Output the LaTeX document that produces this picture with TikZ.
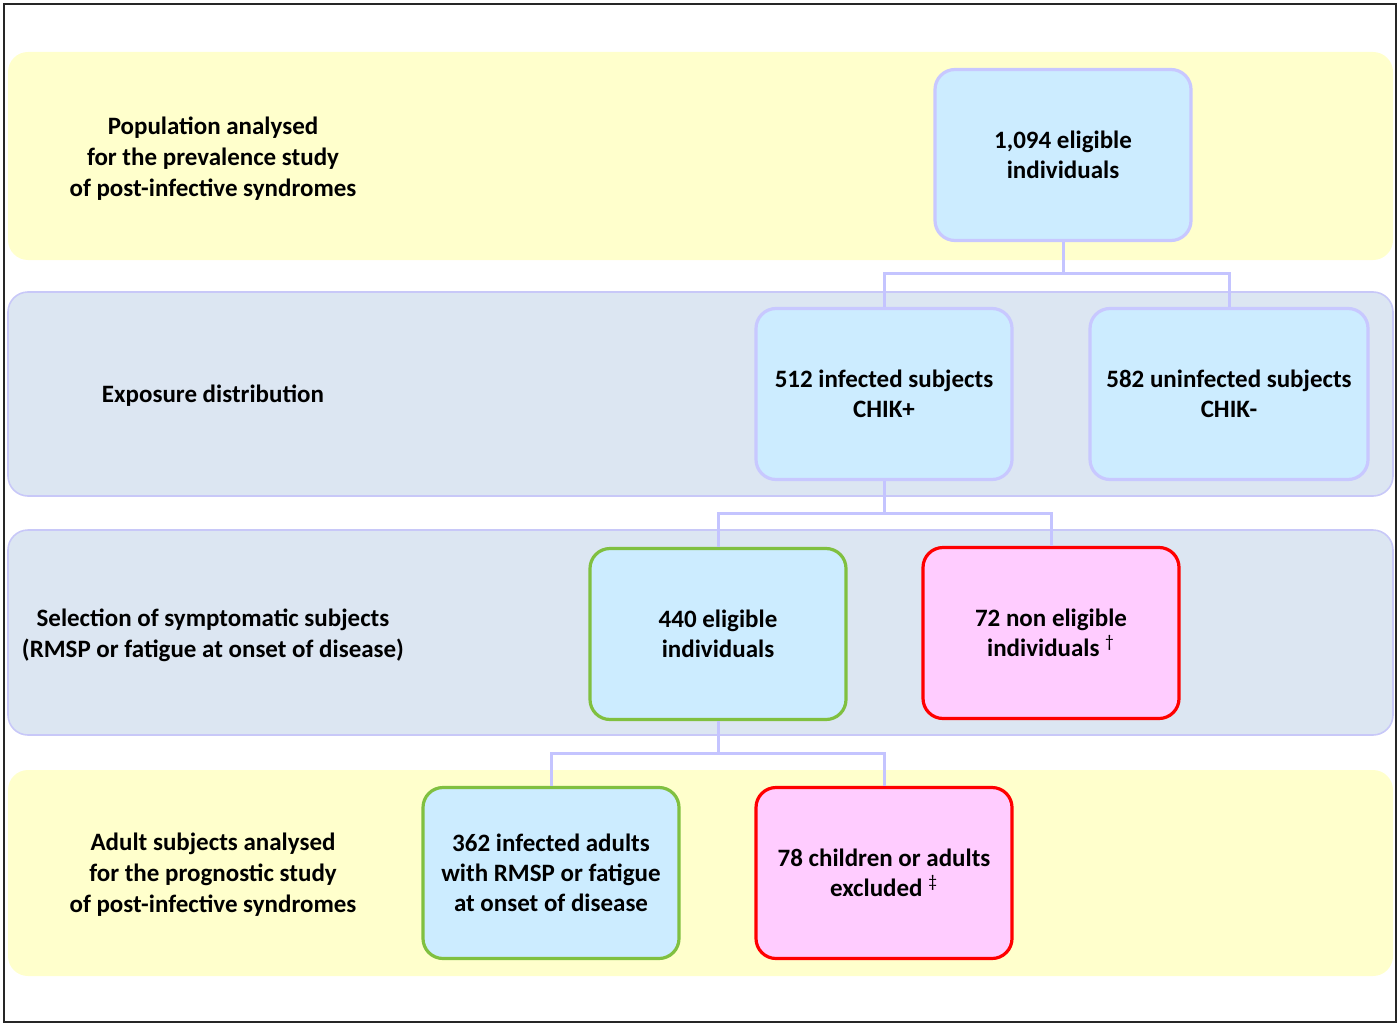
\documentclass[tikz,border=0pt]{standalone}
\usepackage{fontspec}
\setmainfont{Carlito}
\definecolor{bandyellow}{RGB}{255,255,204}
\definecolor{bandblue}{RGB}{220,230,242}
\definecolor{bandline}{RGB}{200,200,248}
\definecolor{boxblue}{RGB}{204,236,255}
\definecolor{boxline}{RGB}{200,200,255}
\definecolor{boxgreen}{RGB}{128,192,64}
\definecolor{boxred}{RGB}{255,0,0}
\definecolor{boxpink}{RGB}{255,204,255}
\definecolor{linkcol}{RGB}{196,196,255}
\tikzset{
  band/.style={
    rounded corners=10pt,
    inner sep=0pt,
    minimum width=692.5pt
  },
  band-yellow/.style={band, fill=bandyellow},
  band-blue/.style={band, fill=bandblue, draw=bandline, line width=0.8pt},
  band-text/.style={align=center, font=\fontsize{12.5}{15.5}\selectfont\bfseries},
  box/.style={
    rounded corners=10pt,
    line width=1.6pt,
    align=center,
    inner sep=2pt,
    minimum width=128pt,
    minimum height=85.5pt,
    font=\fontsize{12.5}{15}\selectfont\bfseries
  },
  box-blue/.style={box, fill=boxblue, draw=boxline},
  box-green/.style={box, fill=boxblue, draw=boxgreen},
  box-red/.style={box, fill=boxpink, draw=boxred},
  link/.style={draw=linkcol, line width=1.5pt},
  frame/.style={draw=black!85, line width=1pt}
}

\begin{document}
\begin{tikzpicture}[x=0.5pt,y=-0.5pt]
  \useasboundingbox (0,0) rectangle (1400,1027);
  \draw[frame] (4,4) rectangle (1396,1022);

  % Bands
  \node[band-yellow, minimum height=104pt] (band1) at (700.5,156) {};
  \node[band-blue, minimum height=102pt] (band2) at (700.5,394) {};
  \node[band-blue, minimum height=102.5pt] (band3) at (700.5,632.5) {};
  \node[band-yellow, minimum height=103pt] (band4) at (700.5,873) {};

  % Band texts
  \node[band-text] (text1) at (213,159)
    {Population analysed\\for the prevalence study\\of post-infective syndromes};
  \node[band-text] (text2) at (213,396) {Exposure distribution};
  \node[band-text] (text3) at (213,635)
    {Selection of symptomatic subjects\\(RMSP or fatigue at onset of disease)};
  \node[band-text] (text4) at (213,875)
    {Adult subjects analysed\\for the prognostic study\\of post-infective syndromes};

  % Boxes
  \node[box-blue] (all) at (1063,155) {1,094 eligible\\individuals};
  \node[box-blue] (chikpos) at (884,394) {512 infected subjects\\CHIK+};
  \node[box-blue, minimum width=139pt] (chikneg) at (1229,394) {582 uninfected subjects\\CHIK-};
  \node[box-green] (elig) at (718,634) {440 eligible\\individuals};
  \node[box-red] (nonelig) at (1051,633)
    {72 non eligible\\individuals \textsuperscript{\textmd{†}}};
  \node[box-green] (adults) at (551,873)
    {362 infected adults\\with RMSP or fatigue\\at onset of disease};
  \node[box-red] (excl) at (884,873)
    {78 children or adults\\excluded \textsuperscript{\textmd{‡}}};

  % Connectors
  \coordinate (split1) at (1063,273);
  \coordinate (split2) at (884,513);
  \coordinate (split3) at (718,753);
  \draw[link] (all.south) -- (split1) -| (chikpos.north);
  \draw[link] (split1) -| (chikneg.north);
  \draw[link] (chikpos.south) -- (split2) -| (elig.north);
  \draw[link] (split2) -| (nonelig.north);
  \draw[link] (elig.south) -- (split3) -| (adults.north);
  \draw[link] (split3) -| (excl.north);
\end{tikzpicture}
\end{document}
